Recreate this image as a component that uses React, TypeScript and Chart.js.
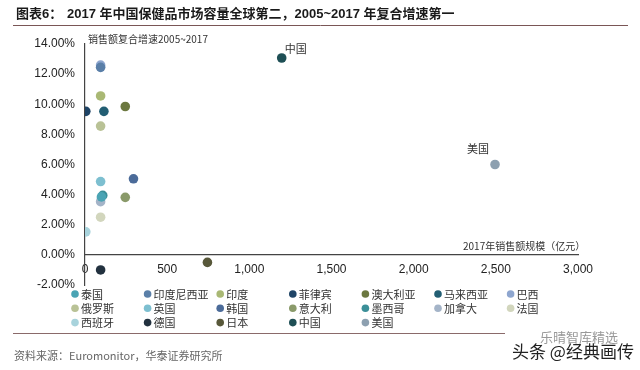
import React, { useEffect, useRef } from 'react';
import { Chart, registerables } from 'chart.js';

Chart.register(...registerables);

const countries = ['泰国', '印度尼西亚', '印度', '菲律宾', '澳大利亚', '马来西亚', '巴西', '俄罗斯', '英国', '韩国', '意大利', '墨西哥', '加拿大', '法国', '西班牙', '德国', '日本', '中国', '美国'];
// 2017年销售额规模（亿元）
const sales = [100, 95, 95, 5, 245, 115, 95, 95, 95, 295, 245, 108, 95, 95, 5, 95, 745, 1197, 2495];
// 销售额复合增速2005~2017 (%)
const cagr = [3.85, 12.45, 10.55, 9.53, 9.85, 9.53, 12.6, 8.55, 4.87, 5.05, 3.82, 3.95, 3.53, 2.5, 1.53, -1.0, -0.5, 13.07, 6.0];
const colors = ['#4aa4b4', '#5a7fa8', '#a9b874', '#1f4466', '#6c7840', '#225e73', '#8ea6cf', '#b9c296', '#7dbfd0', '#4b6b99', '#8a9a6a', '#3b8f98', '#a4b4c8', '#d2d6bd', '#a8d3dc', '#22313f', '#58583a', '#1e4f55', '#8da0b0'];
const labelled = ['中国', '美国'];

const xTicks = [0, 500, 1000, 1500, 2000, 2500, 3000];
const yTicks = [-2, 0, 2, 4, 6, 8, 10, 12, 14];

const TITLE_A = '图表6：';
const TITLE_B = '2017 年中国保健品市场容量全球第二，2005~2017 年复合增速第一';
const Y_TITLE = '销售额复合增速2005~2017';
const X_TITLE = '2017年销售额规模（亿元）';
const SOURCE = '资料来源：Euromonitor，华泰证券研究所';

const CJK = '"Noto Sans CJK SC", sans-serif';
const LAT = '"Liberation Sans", Arial, "Noto Sans CJK SC", sans-serif';

const decor = {
  id: 'decor',
  afterDraw(chart: any) {
    const ctx = chart.ctx as CanvasRenderingContext2D;
    const xs = chart.scales.x;
    const ys = chart.scales.y;
    ctx.save();
    // title
    ctx.textBaseline = 'middle';
    ctx.textAlign = 'left';
    ctx.fillStyle = '#1a1a1a';
    ctx.font = 'bold 13px ' + LAT;
    ctx.fillText(TITLE_A, 16, 14);
    ctx.fillText(TITLE_B, 67, 14);
    ctx.strokeStyle = '#7a5656';
    ctx.lineWidth = 1;
    ctx.beginPath();
    ctx.moveTo(13, 25.5);
    ctx.lineTo(628, 25.5);
    ctx.stroke();

    // axis titles
    ctx.fillStyle = '#333';
    ctx.font = '10px ' + CJK;
    ctx.fillText(Y_TITLE, 88, 39);
    ctx.fillText(X_TITLE, 463, 246);

    // data labels
    ctx.font = '11px ' + CJK;
    ctx.textAlign = 'center';
    chart.data.datasets.forEach((ds: any, i: number) => {
      if (!labelled.includes(ds.label)) return;
      const px = xs.getPixelForValue(sales[i]);
      const py = ys.getPixelForValue(cagr[i]);
      if (ds.label === '中国') ctx.fillText(ds.label, px + 14, py - 9);
      else ctx.fillText(ds.label, px - 17, py - 16);
    });

    // legend grid
    ctx.textAlign = 'left';
    ctx.font = '11px ' + CJK;
    chart.data.datasets.forEach((ds: any, i: number) => {
      const col = i % 7;
      const row = Math.floor(i / 7);
      const cx = 75 + col * 72.6;
      const cy = 294 + row * 14.3;
      ctx.fillStyle = ds.backgroundColor;
      ctx.beginPath();
      ctx.arc(cx, cy, 3.8, 0, Math.PI * 2);
      ctx.fill();
      ctx.fillStyle = '#333';
      ctx.fillText(ds.label, cx + 6, cy + 0.5);
    });

    // footer
    ctx.strokeStyle = '#8a6a6a';
    ctx.beginPath();
    ctx.moveTo(13, 333.5);
    ctx.lineTo(505, 333.5);
    ctx.stroke();
    ctx.fillStyle = '#666';
    ctx.font = '11px ' + CJK;
    ctx.fillText(SOURCE, 14, 356);

    // watermark
    ctx.fillStyle = '#999';
    ctx.font = '13px ' + CJK;
    ctx.fillText('乐晴智库精选', 540, 337);
    ctx.fillStyle = '#222';
    ctx.font = '17px ' + CJK;
    ctx.fillText('头条 @经典画传', 512, 352);
    ctx.restore();
  },
};

export default function App() {
  const ref = useRef<HTMLCanvasElement | null>(null);
  useEffect(() => {
    if (!ref.current) return;
    const chart = new Chart(ref.current, {
      type: 'scatter',
      data: {
        datasets: countries.map((c, i) => ({
          label: c,
          data: [{ x: sales[i], y: cagr[i] }],
          backgroundColor: colors[i],
          borderWidth: 0,
          pointRadius: 4.8,
          pointHoverRadius: 4.8,
        })),
      },
      options: {
        responsive: false,
        animation: false,
        events: [],
        layout: { padding: { top: 44, bottom: 85, right: 62, left: 0 } },
        plugins: { legend: { display: false }, tooltip: { enabled: false } },
        scales: {
          x: {
            type: 'linear',
            position: { y: 0 },
            min: xTicks[0],
            max: xTicks[xTicks.length - 1],
            afterBuildTicks: (s: any) => { s.ticks = xTicks.map((v) => ({ value: v })); },
            grid: { display: false, drawTicks: false },
            border: { display: true, color: '#444', width: 1.2 },
            ticks: {
              padding: 8,
              color: '#222',
              font: { family: LAT, size: 12 },
              callback: (v: any) => Number(v).toLocaleString('en-US'),
            },
          },
          y: {
            type: 'linear',
            position: 'left',
            min: yTicks[0],
            max: yTicks[yTicks.length - 1],
            afterBuildTicks: (s: any) => { s.ticks = yTicks.map((v) => ({ value: v })); },
            afterFit: (s: any) => { s.width = 85; },
            grid: { display: false, drawTicks: false },
            border: { display: true, color: '#444', width: 1.2 },
            ticks: {
              padding: 10,
              color: '#222',
              font: { family: LAT, size: 12 },
              callback: (v: any) => Number(v).toFixed(2) + '%',
            },
          },
        },
      },
      plugins: [decor],
    });
    return () => chart.destroy();
  }, []);
  return (
    <div style={{ position: 'absolute', left: 0, top: 0, width: 640, height: 370, background: '#fff' }}>
      <canvas ref={ref} width={640} height={370} style={{ display: 'block' }} />
    </div>
  );
}
